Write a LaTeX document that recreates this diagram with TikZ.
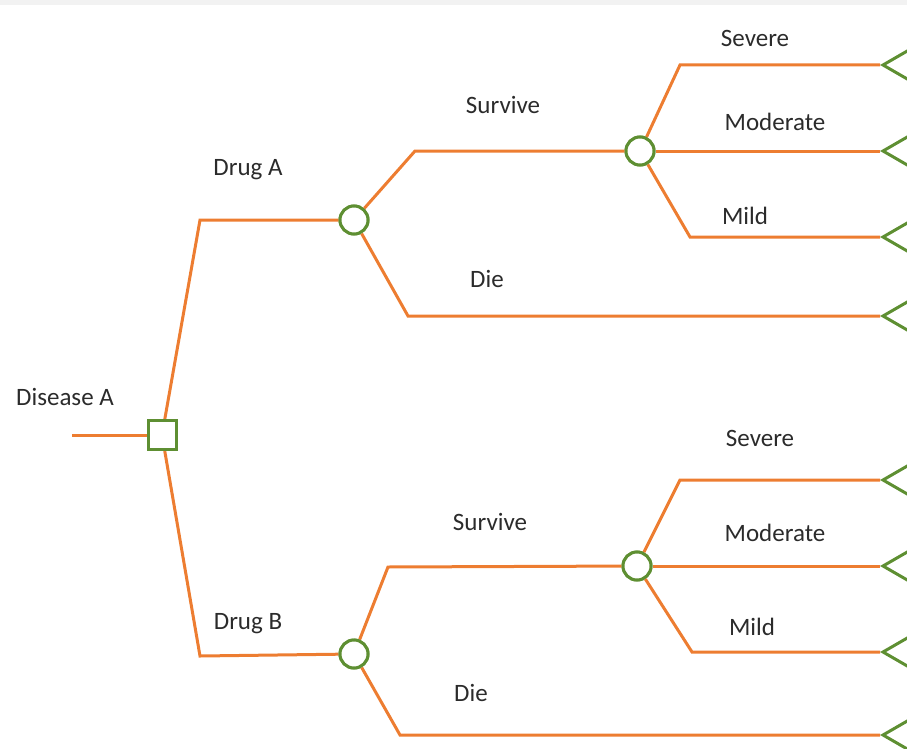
\documentclass[tikz,border=0pt]{standalone}
\usepackage{fontspec}
\setmainfont{Carlito}
\usetikzlibrary{shapes.geometric}
\definecolor{branch}{HTML}{ED7D31}
\definecolor{nodegreen}{HTML}{5E8F32}
\definecolor{labelgray}{HTML}{2B2B2B}
\begin{document}
\begin{tikzpicture}[x=1pt,y=-1pt,
  edge/.style={draw=branch,line width=3pt},
  decision/.style={draw=nodegreen,line width=3pt,fill=white,minimum width=28pt,minimum height=29pt,inner sep=0pt},
  chance/.style={circle,draw=nodegreen,line width=3pt,fill=white,minimum size=28pt,inner sep=0pt},
  terminal/.style={isosceles triangle,shape border rotate=180,isosceles triangle apex angle=60,draw=nodegreen,line width=3pt,fill=white,minimum height=44pt,inner sep=0pt,anchor=apex},
  lbl/.style={font=\fontsize{25}{28}\selectfont,text=labelgray,inner sep=0pt}]
\useasboundingbox (0,0) rectangle (907,749);
\fill[gray!10] (0,0) rectangle (907,5);
% nodes
\node[decision] (dec) at (162,435) {};
\node[chance] (cA) at (354,220) {};
\node[chance] (cAs) at (640,151) {};
\node[chance] (cB) at (354,654) {};
\node[chance] (cBs) at (637,566) {};
\node[terminal] (t1) at (880,65) {};
\node[terminal] (t2) at (880,151) {};
\node[terminal] (t3) at (880,237) {};
\node[terminal] (t4) at (880,316) {};
\node[terminal] (t5) at (880,480) {};
\node[terminal] (t6) at (880,566) {};
\node[terminal] (t7) at (880,652) {};
\node[terminal] (t8) at (880,735) {};
% elbows
\coordinate (start) at (72,435);
\coordinate (eA) at (200,220);
\coordinate (eB) at (200,656);
\coordinate (eAs) at (415,151);
\coordinate (eAd) at (408,316);
\coordinate (eBs) at (388,567);
\coordinate (eBd) at (400,735);
\coordinate (e1) at (680,65);
\coordinate (e3) at (690,237);
\coordinate (e5) at (680,480);
\coordinate (e7) at (692,652);
% connectors
\draw[edge] (start) -- (dec.west);
\draw[edge] (dec) -- (eA) -- (cA);
\draw[edge] (dec) -- (eB) -- (cB);
\draw[edge] (cA) -- (eAs) -- (cAs);
\draw[edge] (cA) -- (eAd) -- (t4.apex);
\draw[edge] (cAs) -- (e1) -- (t1.apex);
\draw[edge] (cAs) -- (t2.apex);
\draw[edge] (cAs) -- (e3) -- (t3.apex);
\draw[edge] (cB) -- (eBs) -- (cBs);
\draw[edge] (cB) -- (eBd) -- (t8.apex);
\draw[edge] (cBs) -- (e5) -- (t5.apex);
\draw[edge] (cBs) -- (t6.apex);
\draw[edge] (cBs) -- (e7) -- (t7.apex);
% redraw nodes on top
\node[decision] at (dec) {};
\node[chance] at (cA) {};
\node[chance] at (cAs) {};
\node[chance] at (cB) {};
\node[chance] at (cBs) {};
% labels
\node[lbl] (lDis) at (65,397) {Disease A};
\node[lbl] (lDA) at (248,170) {Drug A};
\node[lbl] (lSA) at (503,105) {Survive};
\node[lbl] (lDieA) at (487,279) {Die};
\node[lbl] (lSevA) at (755,38) {Severe};
\node[lbl] (lModA) at (775,122) {Moderate};
\node[lbl] (lMilA) at (745,216) {Mild};
\node[lbl] (lDB) at (248,624) {Drug B};
\node[lbl] (lSB) at (490,522) {Survive};
\node[lbl] (lDieB) at (471,693) {Die};
\node[lbl] (lSevB) at (760,438) {Severe};
\node[lbl] (lModB) at (775,533) {Moderate};
\node[lbl] (lMilB) at (752,627) {Mild};
\end{tikzpicture}
\end{document}
